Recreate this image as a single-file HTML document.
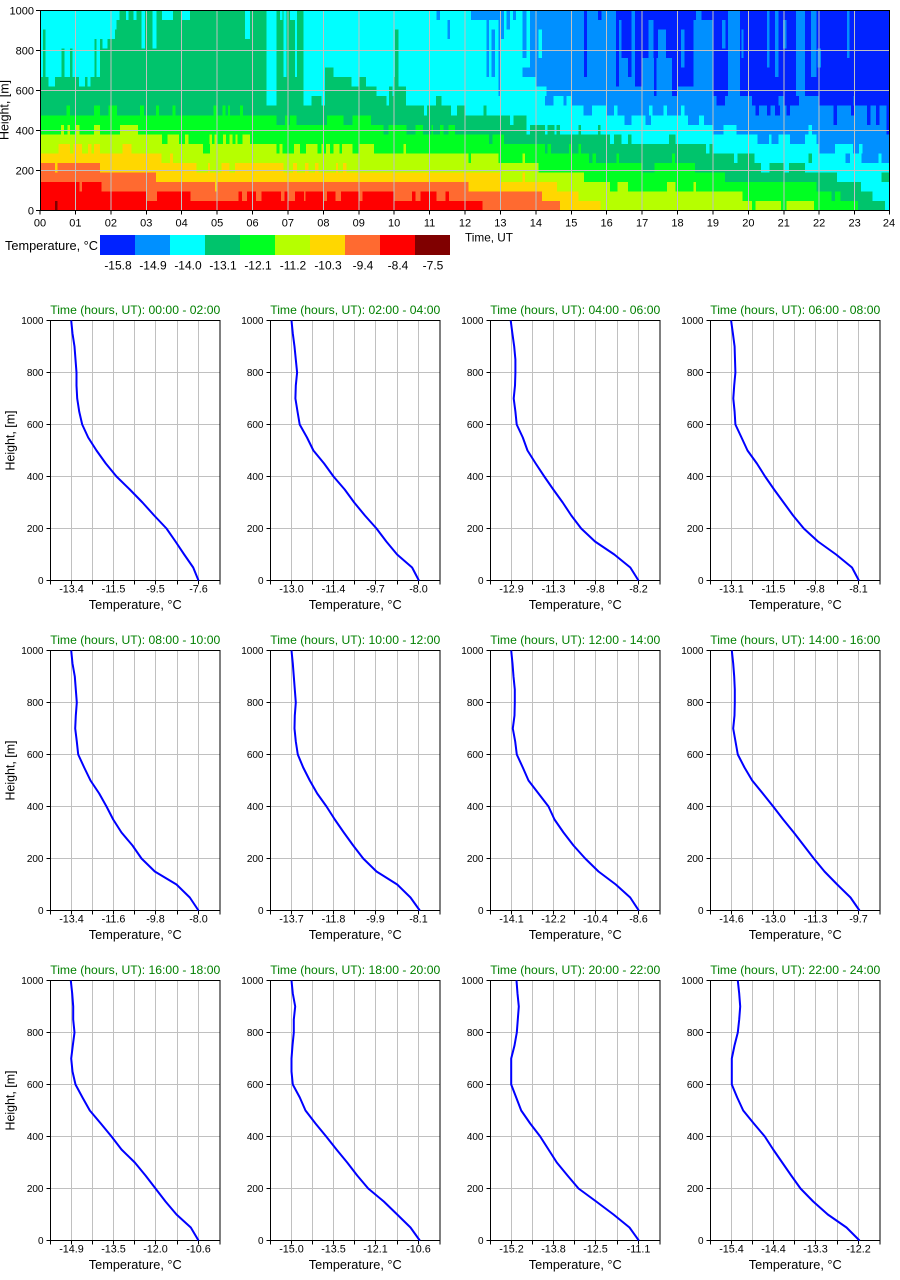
<!DOCTYPE html>
<html><head><meta charset="utf-8"><style>
html,body{margin:0;padding:0;background:#fff;}
svg{display:block}
text{font-family:"Liberation Sans",Arial,sans-serif;fill:#000}
.yl{font-size:10px;text-anchor:end}
.xl{font-size:10.8px;text-anchor:middle}
.xt{font-size:13px;text-anchor:middle}
.tt{font-size:12px;text-anchor:middle;fill:#008000}
.hy{font-size:11px;text-anchor:end}
.hx{font-size:11px;text-anchor:middle}
.cb{font-size:12px;text-anchor:middle}
.A{fill:#0022ff}.B{fill:#0090ff}.C{fill:#00ffff}.T{fill:#00c46c}.G{fill:#00ff22}.Y{fill:#b6ff00}.O{fill:#ffd700}.N{fill:#ff6a30}.R{fill:#ff0000}.D{fill:#800000}
.pl{fill:none;stroke:#0000ff;stroke-width:2;stroke-linejoin:round}
</style></head><body>
<svg width="900" height="1280" viewBox="0 0 900 1280" xmlns="http://www.w3.org/2000/svg">
<rect x="0" y="0" width="900" height="1280" fill="#fff"/>
<defs>
<g id="ax">
<path d="M21 0V260M42 0V260M63 0V260M84 0V260M105 0V260M127 0V260M148 0V260M0 52H169.5M0 104H169.5M0 156H169.5M0 208H169.5" stroke="#c0c0c0" fill="none"/>
<rect x="0" y="0" width="169.5" height="260" fill="none" stroke="#000"/>
<path d="M0 260v4M21 260v4M42 260v4M63 260v4M84 260v4M105 260v4M127 260v4M148 260v4M169.5 260v4M0 0h-4M0 52h-4M0 104h-4M0 156h-4M0 208h-4M0 260h-4" stroke="#000" fill="none"/>
</g>
</defs>

<!-- HEATMAP -->
<svg x="40" y="10.5" width="850" height="200" viewBox="0 0 24 21" preserveAspectRatio="none" shape-rendering="crispEdges">
<rect class="T" x="0" y="0" width="12" height="9"/>
<rect class="C" x="0" y="0" width="1.69" height="7"/>
<rect class="C" x="0.24" y="7" width="0.18" height="1"/>
<rect class="C" x="1.1" y="7" width="0.17" height="1"/>
<rect class="C" x="1.34" y="7" width="0.09" height="1"/>
<rect class="T" x="0.08" y="2" width="0.08" height="5"/>
<rect class="T" x="0.61" y="4" width="0.08" height="3"/>
<rect class="T" x="0.85" y="4" width="0.07" height="3"/>
<rect class="T" x="1.54" y="3" width="0.06" height="4"/>
<rect class="C" x="1.69" y="0" width="0.43" height="3"/>
<rect class="C" x="1.77" y="3" width="0.13" height="1"/>
<rect class="C" x="2.12" y="0" width="0.04" height="2"/>
<rect class="C" x="2.16" y="0" width="0.08" height="1"/>
<rect class="C" x="2.43" y="0" width="0.07" height="1"/>
<rect class="C" x="2.64" y="0" width="0.09" height="1"/>
<rect class="C" x="2.87" y="0" width="0.09" height="4"/>
<rect class="C" x="3.18" y="0" width="0.11" height="4"/>
<rect class="C" x="3.45" y="0" width="0.31" height="1"/>
<rect class="C" x="4.0" y="0" width="0.23" height="1"/>
<rect class="C" x="5.79" y="0" width="0.14" height="3"/>
<rect class="C" x="6.4" y="0" width="0.28" height="9"/>
<rect class="C" x="6.77" y="0" width="0.08" height="1"/>
<rect class="C" x="6.87" y="0" width="0.09" height="7"/>
<rect class="C" x="7.06" y="0" width="0.14" height="1"/>
<rect class="C" x="7.2" y="0" width="0.05" height="7"/>
<rect class="C" x="7.44" y="0" width="0.61" height="9"/>
<rect class="C" x="8.05" y="0" width="0.23" height="6"/>
<rect class="C" x="8.28" y="0" width="2.05" height="7"/>
<rect class="C" x="8.8" y="7" width="0.2" height="1"/>
<rect class="C" x="9.2" y="7" width="0.8" height="1"/>
<rect class="C" x="10.12" y="7" width="0.21" height="1"/>
<rect class="C" x="9.5" y="8" width="0.35" height="1"/>
<rect class="C" x="9.95" y="8" width="0.05" height="1"/>
<rect class="T" x="10.02" y="2" width="0.1" height="5"/>
<rect class="C" x="10.33" y="0" width="1.67" height="9"/>
<rect class="B" x="11.2" y="0" width="0.1" height="1"/>
<rect class="B" x="11.5" y="1" width="0.08" height="2"/>
<rect class="C" x="12" y="0" width="2" height="9"/>
<rect class="B" x="12.17" y="0" width="0.82" height="1"/>
<rect class="B" x="12.61" y="1" width="0.07" height="6"/>
<rect class="B" x="12.75" y="2" width="0.1" height="5"/>
<rect class="B" x="12.94" y="0" width="0.05" height="9"/>
<rect class="B" x="13.0" y="0" width="0.1" height="3"/>
<rect class="B" x="13.17" y="0" width="0.1" height="2"/>
<rect class="B" x="13.36" y="0" width="0.08" height="1"/>
<rect class="B" x="13.62" y="0" width="0.12" height="5"/>
<rect class="B" x="13.62" y="6" width="0.38" height="1"/>
<rect class="B" x="13.84" y="0" width="0.16" height="7"/>
<rect class="B" x="14" y="0" width="5" height="9"/>
<rect class="C" x="14.07" y="2" width="0.1" height="3"/>
<rect class="C" x="14.0" y="8" width="0.3" height="1"/>
<rect class="A" x="15.36" y="0" width="0.09" height="7"/>
<rect class="A" x="15.76" y="0" width="0.1" height="1"/>
<rect class="A" x="16.26" y="0" width="0.44" height="5"/>
<rect class="A" x="16.26" y="5" width="0.09" height="3"/>
<rect class="B" x="16.35" y="1" width="0.07" height="4"/>
<rect class="A" x="16.6" y="5" width="0.1" height="2"/>
<rect class="A" x="16.8" y="0" width="0.2" height="8"/>
<rect class="A" x="17.0" y="0" width="0.84" height="5"/>
<rect class="B" x="17.18" y="1" width="0.14" height="4"/>
<rect class="B" x="17.45" y="2" width="0.22" height="3"/>
<rect class="A" x="17.34" y="0" width="0.07" height="9"/>
<rect class="A" x="17.84" y="0" width="0.16" height="9"/>
<rect class="A" x="18.0" y="0" width="0.45" height="8"/>
<rect class="B" x="18.1" y="2" width="0.1" height="4"/>
<rect class="A" x="18.45" y="0" width="0.07" height="1"/>
<rect class="A" x="18.68" y="0" width="0.32" height="1"/>
<rect class="A" x="19" y="0" width="5" height="9"/>
<rect class="B" x="19.25" y="1" width="0.1" height="3"/>
<rect class="B" x="19.43" y="0" width="0.34" height="9"/>
<rect class="B" x="19.8" y="2" width="0.06" height="3"/>
<rect class="B" x="20.52" y="0" width="0.08" height="6"/>
<rect class="B" x="20.75" y="0" width="0.1" height="7"/>
<rect class="B" x="20.98" y="1" width="0.1" height="3"/>
<rect class="B" x="21.35" y="0" width="0.25" height="9"/>
<rect class="B" x="21.77" y="0" width="0.15" height="7"/>
<rect class="B" x="21.95" y="4" width="0.1" height="2"/>
<rect class="B" x="22.78" y="0" width="0.08" height="5"/>

<!-- row 11 y=9 -->
<rect class="T" x="0" y="9" width="9.78" height="1"/>
<rect class="C" x="6.4" y="9" width="0.28" height="1"/>
<rect class="C" x="7.44" y="9" width="0.23" height="1"/>
<rect class="C" x="7.95" y="9" width="0.1" height="1"/>
<rect class="C" x="9.78" y="9" width="0.08" height="1"/>
<rect class="T" x="9.86" y="9" width="0.47" height="1"/>
<rect class="C" x="10.33" y="9" width="0.85" height="1"/>
<rect class="T" x="11.18" y="9" width="0.16" height="1"/>
<rect class="C" x="11.34" y="9" width="2.92" height="1"/>
<rect class="B" x="14.26" y="9" width="9.74" height="1"/>
<rect class="C" x="14.5" y="9" width="0.28" height="1"/>
<rect class="C" x="14.87" y="9" width="0.13" height="1"/>
<rect class="A" x="19.1" y="9" width="0.24" height="1"/>
<rect class="A" x="20.1" y="9" width="0.75" height="1"/>
<rect class="A" x="21.0" y="9" width="0.43" height="1"/>
<rect class="A" x="22.0" y="9" width="0.97" height="1"/>
<rect class="A" x="23.0" y="9" width="1.0" height="1"/>

<!-- row 10 y=10 -->
<rect class="T" x="0" y="10" width="12" height="1"/>
<rect class="G" x="0.75" y="10" width="0.1" height="1"/>
<rect class="G" x="1.53" y="10" width="0.16" height="1"/>
<rect class="G" x="1.93" y="10" width="0.25" height="1"/>
<rect class="G" x="2.83" y="10" width="0.1" height="1"/>
<rect class="G" x="3.27" y="10" width="0.09" height="1"/>
<rect class="G" x="3.74" y="10" width="0.09" height="1"/>
<rect class="G" x="4.9" y="10" width="0.08" height="1"/>
<rect class="G" x="5.15" y="10" width="0.09" height="1"/>
<rect class="G" x="5.31" y="10" width="0.06" height="1"/>
<rect class="G" x="5.65" y="10" width="0.08" height="1"/>
<rect class="C" x="10.84" y="10" width="0.09" height="1"/>
<rect class="C" x="11.6" y="10" width="0.17" height="1"/>
<rect class="C" x="12" y="10" width="3.34" height="1"/>
<rect class="T" x="12.52" y="10" width="0.08" height="1"/>
<rect class="B" x="15.34" y="10" width="8.66" height="1"/>
<rect class="C" x="15.58" y="10" width="0.42" height="1"/>
<rect class="C" x="16.2" y="10" width="0.1" height="1"/>
<rect class="C" x="17.2" y="10" width="0.1" height="1"/>
<rect class="C" x="17.6" y="10" width="0.1" height="1"/>
<rect class="C" x="18.1" y="10" width="0.1" height="1"/>
<rect class="A" x="20.2" y="10" width="0.1" height="1"/>
<rect class="A" x="20.52" y="10" width="0.1" height="1"/>
<rect class="A" x="20.75" y="10" width="0.15" height="1"/>
<rect class="A" x="21.08" y="10" width="0.1" height="1"/>
<rect class="A" x="22.4" y="10" width="0.1" height="1"/>
<rect class="A" x="22.9" y="10" width="0.1" height="1"/>
<rect class="A" x="23.35" y="10" width="0.1" height="1"/>
<rect class="A" x="23.6" y="10" width="0.1" height="1"/>
<rect class="A" x="23.9" y="10" width="0.1" height="1"/>

<!-- row 9 y=11 -->
<rect class="G" x="0" y="11" width="9.34" height="1"/>
<rect class="T" x="6.68" y="11" width="0.24" height="1"/>
<rect class="T" x="6.99" y="11" width="0.07" height="1"/>
<rect class="T" x="7.24" y="11" width="0.86" height="1"/>
<rect class="T" x="8.57" y="11" width="0.26" height="1"/>
<rect class="T" x="9.34" y="11" width="4.4" height="1"/>
<rect class="C" x="13.27" y="11" width="0.1" height="1"/>
<rect class="C" x="13.74" y="11" width="5.01" height="1"/>
<rect class="B" x="16.5" y="11" width="0.2" height="1"/>
<rect class="B" x="17.1" y="11" width="0.15" height="1"/>
<rect class="B" x="18.3" y="11" width="0.3" height="1"/>
<rect class="B" x="18.75" y="11" width="5.25" height="1"/>
<rect class="A" x="22.4" y="11" width="0.1" height="1"/>
<rect class="A" x="23.35" y="11" width="0.1" height="1"/>
<rect class="A" x="23.6" y="11" width="0.1" height="1"/>
<rect class="A" x="23.9" y="11" width="0.1" height="1"/>

<!-- row 8 y=12 -->
<rect class="G" x="0" y="12" width="11.72" height="1"/>
<rect class="Y" x="0.59" y="12" width="0.09" height="1"/>
<rect class="Y" x="0.77" y="12" width="0.08" height="1"/>
<rect class="Y" x="0.99" y="12" width="0.12" height="1"/>
<rect class="Y" x="1.52" y="12" width="0.17" height="1"/>
<rect class="Y" x="2.26" y="12" width="0.5" height="1"/>
<rect class="T" x="9.7" y="12" width="0.14" height="1"/>
<rect class="T" x="10.35" y="12" width="0.25" height="1"/>
<rect class="T" x="10.82" y="12" width="0.24" height="1"/>
<rect class="T" x="11.1" y="12" width="0.2" height="1"/>
<rect class="T" x="11.39" y="12" width="0.14" height="1"/>
<rect class="T" x="11.72" y="12" width="2.54" height="1"/>
<rect class="C" x="13.74" y="12" width="0.1" height="1"/>
<rect class="C" x="14.26" y="12" width="4.74" height="1"/>
<rect class="T" x="14.33" y="12" width="0.19" height="1"/>
<rect class="T" x="14.59" y="12" width="0.09" height="1"/>
<rect class="T" x="15.2" y="12" width="0.07" height="1"/>
<rect class="T" x="15.76" y="12" width="0.07" height="1"/>
<rect class="B" x="19" y="12" width="5" height="1"/>
<rect class="C" x="19.3" y="12" width="0.37" height="1"/>
<rect class="C" x="21.7" y="12" width="0.1" height="1"/>
<rect class="A" x="23.9" y="12" width="0.1" height="1"/>

<!-- row 7 y=13 -->
<rect class="Y" x="0" y="13" width="5.93" height="1"/>
<rect class="G" x="3.44" y="13" width="0.16" height="1"/>
<rect class="G" x="3.93" y="13" width="0.17" height="1"/>
<rect class="G" x="4.19" y="13" width="0.59" height="1"/>
<rect class="G" x="4.85" y="13" width="0.07" height="1"/>
<rect class="G" x="4.99" y="13" width="0.17" height="1"/>
<rect class="G" x="5.25" y="13" width="0.1" height="1"/>
<rect class="G" x="5.44" y="13" width="0.08" height="1"/>
<rect class="G" x="5.58" y="13" width="0.14" height="1"/>
<rect class="G" x="5.93" y="13" width="7.17" height="1"/>
<rect class="T" x="12.68" y="13" width="0.09" height="1"/>
<rect class="T" x="13.1" y="13" width="3.0" height="1"/>
<rect class="C" x="16.1" y="13" width="5.83" height="1"/>
<rect class="T" x="16.2" y="13" width="0.22" height="1"/>
<rect class="T" x="16.6" y="13" width="0.1" height="1"/>
<rect class="T" x="17.76" y="13" width="0.19" height="1"/>
<rect class="B" x="20.26" y="13" width="0.32" height="1"/>
<rect class="B" x="20.66" y="13" width="0.19" height="1"/>
<rect class="B" x="21.18" y="13" width="0.42" height="1"/>
<rect class="B" x="21.93" y="13" width="2.07" height="1"/>

<!-- row 6 y=14 -->
<rect class="Y" x="0" y="14" width="4.6" height="1"/>
<rect class="O" x="0.52" y="14" width="0.33" height="1"/>
<rect class="O" x="0.94" y="14" width="0.24" height="1"/>
<rect class="O" x="1.36" y="14" width="0.1" height="1"/>
<rect class="O" x="1.52" y="14" width="0.17" height="1"/>
<rect class="O" x="2.33" y="14" width="0.26" height="1"/>
<rect class="G" x="4.6" y="14" width="0.2" height="1"/>
<rect class="Y" x="4.8" y="14" width="1.88" height="1"/>
<rect class="G" x="6.68" y="14" width="7.58" height="1"/>
<rect class="Y" x="6.76" y="14" width="0.09" height="1"/>
<rect class="Y" x="7.17" y="14" width="0.17" height="1"/>
<rect class="Y" x="7.51" y="14" width="0.32" height="1"/>
<rect class="Y" x="7.95" y="14" width="0.05" height="1"/>
<rect class="Y" x="8.07" y="14" width="0.12" height="1"/>
<rect class="Y" x="8.28" y="14" width="0.17" height="1"/>
<rect class="Y" x="8.52" y="14" width="0.31" height="1"/>
<rect class="Y" x="9.02" y="14" width="0.41" height="1"/>
<rect class="Y" x="10.26" y="14" width="0.07" height="1"/>
<rect class="T" x="14.26" y="14" width="4.54" height="1"/>
<rect class="G" x="14.33" y="14" width="0.1" height="1"/>
<rect class="G" x="14.94" y="14" width="0.07" height="1"/>
<rect class="G" x="15.2" y="14" width="0.08" height="1"/>
<rect class="C" x="18.8" y="14" width="5.2" height="1"/>
<rect class="T" x="18.9" y="14" width="0.1" height="1"/>
<rect class="B" x="22" y="14" width="0.45" height="1"/>
<rect class="B" x="22.95" y="14" width="1.05" height="1"/>
<rect class="C" x="23.13" y="14" width="0.09" height="1"/>

<!-- row 5 y=15 -->
<rect class="O" x="0" y="15" width="3.43" height="1"/>
<rect class="Y" x="3.43" y="15" width="9.52" height="1"/>
<rect class="O" x="3.67" y="15" width="0.09" height="1"/>
<rect class="G" x="12.1" y="15" width="0.07" height="1"/>
<rect class="G" x="12.95" y="15" width="2.55" height="1"/>
<rect class="Y" x="13.62" y="15" width="0.08" height="1"/>
<rect class="T" x="15.5" y="15" width="4.1" height="1"/>
<rect class="G" x="15.6" y="15" width="0.1" height="1"/>
<rect class="G" x="16.28" y="15" width="0.07" height="1"/>
<rect class="G" x="17.85" y="15" width="0.08" height="1"/>
<rect class="C" x="19.6" y="15" width="4.4" height="1"/>
<rect class="T" x="19.7" y="15" width="0.47" height="1"/>
<rect class="T" x="21.7" y="15" width="0.1" height="1"/>
<rect class="B" x="22.75" y="15" width="0.12" height="1"/>
<rect class="B" x="23.2" y="15" width="0.47" height="1"/>
<rect class="B" x="23.76" y="15" width="0.24" height="1"/>

<!-- row 4 y=16 -->
<rect class="N" x="0" y="16" width="1.69" height="1"/>
<rect class="O" x="0.42" y="16" width="0.08" height="1"/>
<rect class="O" x="1.69" y="16" width="6.97" height="1"/>
<rect class="Y" x="4.42" y="16" width="0.33" height="1"/>
<rect class="Y" x="4.8" y="16" width="0.33" height="1"/>
<rect class="Y" x="5.35" y="16" width="0.15" height="1"/>
<rect class="Y" x="6.87" y="16" width="0.28" height="1"/>
<rect class="Y" x="7.25" y="16" width="0.23" height="1"/>
<rect class="Y" x="7.58" y="16" width="0.19" height="1"/>
<rect class="Y" x="7.86" y="16" width="0.5" height="1"/>
<rect class="Y" x="8.42" y="16" width="0.13" height="1"/>
<rect class="Y" x="8.66" y="16" width="5.41" height="1"/>
<rect class="G" x="14.07" y="16" width="2.93" height="1"/>
<rect class="T" x="17.0" y="16" width="0.35" height="1"/>
<rect class="G" x="17.35" y="16" width="1.15" height="1"/>
<rect class="T" x="18.5" y="16" width="1.86" height="1"/>
<rect class="C" x="20.36" y="16" width="0.24" height="1"/>
<rect class="T" x="20.6" y="16" width="0.4" height="1"/>
<rect class="C" x="21.0" y="16" width="0.15" height="1"/>
<rect class="T" x="21.15" y="16" width="0.45" height="1"/>
<rect class="C" x="21.6" y="16" width="2.4" height="1"/>

<!-- row 3 y=17 -->
<rect class="N" x="0" y="17" width="3.28" height="1"/>
<rect class="O" x="3.28" y="17" width="9.72" height="1"/>
<rect class="Y" x="13.0" y="17" width="2.36" height="1"/>
<rect class="O" x="13.62" y="17" width="0.08" height="1"/>
<rect class="G" x="15.36" y="17" width="3.98" height="1"/>
<rect class="T" x="19.34" y="17" width="3.16" height="1"/>
<rect class="C" x="22.5" y="17" width="1.26" height="1"/>
<rect class="T" x="23.76" y="17" width="0.24" height="1"/>

<!-- row 2 y=18 -->
<rect class="R" x="0" y="18" width="1.74" height="1"/>
<rect class="N" x="1.11" y="18" width="0.07" height="1"/>
<rect class="N" x="1.74" y="18" width="10.36" height="1"/>
<rect class="O" x="4.94" y="18" width="0.06" height="1"/>
<rect class="O" x="12.1" y="18" width="2.5" height="1"/>
<rect class="Y" x="14.6" y="18" width="1.5" height="1"/>
<rect class="G" x="16.1" y="18" width="7.9" height="1"/>
<rect class="Y" x="16.3" y="18" width="0.3" height="1"/>
<rect class="Y" x="17.7" y="18" width="0.25" height="1"/>
<rect class="Y" x="18.45" y="18" width="0.07" height="1"/>
<rect class="T" x="21.93" y="18" width="1.25" height="1"/>
<rect class="C" x="23.18" y="18" width="0.82" height="1"/>

<!-- row 1 y=19 -->
<rect class="R" x="0" y="19" width="12" height="1"/>
<rect class="N" x="3.0" y="19" width="0.3" height="1"/>
<rect class="N" x="4.25" y="19" width="1.35" height="1"/>
<rect class="N" x="5.7" y="19" width="0.15" height="1"/>
<rect class="N" x="6.1" y="19" width="0.15" height="1"/>
<rect class="N" x="6.8" y="19" width="0.1" height="1"/>
<rect class="N" x="7.0" y="19" width="0.2" height="1"/>
<rect class="N" x="7.45" y="19" width="0.05" height="1"/>
<rect class="N" x="8.0" y="19" width="0.1" height="1"/>
<rect class="N" x="8.35" y="19" width="0.15" height="1"/>
<rect class="N" x="9.0" y="19" width="0.1" height="1"/>
<rect class="N" x="10.0" y="19" width="0.5" height="1"/>
<rect class="N" x="10.6" y="19" width="0.15" height="1"/>
<rect class="N" x="11.2" y="19" width="0.25" height="1"/>
<rect class="N" x="11.55" y="19" width="0.45" height="1"/>
<rect class="N" x="12" y="19" width="2.17" height="1"/>
<rect class="O" x="14.17" y="19" width="1.03" height="1"/>
<rect class="Y" x="15.2" y="19" width="4.64" height="1"/>
<rect class="G" x="19.84" y="19" width="4.16" height="1"/>
<rect class="T" x="22.35" y="19" width="0.1" height="1"/>
<rect class="T" x="22.6" y="19" width="0.9" height="1"/>
<rect class="C" x="23.5" y="19" width="0.5" height="1"/>

<!-- row 0 y=20 -->
<rect class="R" x="0" y="20" width="12.5" height="1"/>
<rect class="N" x="12.5" y="20" width="2.18" height="1"/>
<rect class="O" x="14.68" y="20" width="1.15" height="1"/>
<rect class="Y" x="15.83" y="20" width="8.17" height="1"/>
<rect class="D" x="0.42" y="20" width="0.08" height="1"/>
<rect class="G" x="20.1" y="20" width="0.1" height="1"/>
<rect class="G" x="20.92" y="20" width="0.16" height="1"/>
<rect class="G" x="21.85" y="20" width="1.25" height="1"/>
<rect class="T" x="23.1" y="20" width="0.76" height="1"/>
<rect class="C" x="23.86" y="20" width="0.14" height="1"/>
</svg>

<!-- heatmap grid -->
<path d="M75.42 10.5V210.5M110.83 10.5V210.5M146.25 10.5V210.5M181.67 10.5V210.5M217.08 10.5V210.5M252.5 10.5V210.5M287.92 10.5V210.5M323.33 10.5V210.5M358.75 10.5V210.5M394.17 10.5V210.5M429.58 10.5V210.5M465 10.5V210.5M500.42 10.5V210.5M535.83 10.5V210.5M571.25 10.5V210.5M606.67 10.5V210.5M642.08 10.5V210.5M677.5 10.5V210.5M712.92 10.5V210.5M748.33 10.5V210.5M783.75 10.5V210.5M819.17 10.5V210.5M854.58 10.5V210.5M40 50.5H890M40 90.5H890M40 130.5H890M40 170.5H890" stroke="#c0c0c0" stroke-width="1" fill="none" shape-rendering="crispEdges"/>
<rect x="40.5" y="10.5" width="849" height="200" fill="none" stroke="#000" stroke-width="1" shape-rendering="crispEdges"/>
<path d="M40 210.5v4M75.42 210.5v4M110.83 210.5v4M146.25 210.5v4M181.67 210.5v4M217.08 210.5v4M252.5 210.5v4M287.92 210.5v4M323.33 210.5v4M358.75 210.5v4M394.17 210.5v4M429.58 210.5v4M465 210.5v4M500.42 210.5v4M535.83 210.5v4M571.25 210.5v4M606.67 210.5v4M642.08 210.5v4M677.5 210.5v4M712.92 210.5v4M748.33 210.5v4M783.75 210.5v4M819.17 210.5v4M854.58 210.5v4M889.5 210.5v4M40 10.5h-4M40 50.5h-4M40 90.5h-4M40 130.5h-4M40 170.5h-4M40 210.5h-4" stroke="#000" fill="none" shape-rendering="crispEdges"/>
<text class="hy" x="34" y="14.5">1000</text>
<text class="hy" x="34" y="54.5">800</text>
<text class="hy" x="34" y="94.5">600</text>
<text class="hy" x="34" y="134.5">400</text>
<text class="hy" x="34" y="174.5">200</text>
<text class="hy" x="34" y="214.5">0</text>
<text x="8.5" y="110" font-size="13" text-anchor="middle" transform="rotate(-90 8.5 110)" textLength="60" lengthAdjust="spacingAndGlyphs">Height, [m]</text>
<g>
<text class="hx" x="40" y="226.5">00</text>
<text class="hx" x="75.42" y="226.5">01</text>
<text class="hx" x="110.83" y="226.5">02</text>
<text class="hx" x="146.25" y="226.5">03</text>
<text class="hx" x="181.67" y="226.5">04</text>
<text class="hx" x="217.08" y="226.5">05</text>
<text class="hx" x="252.5" y="226.5">06</text>
<text class="hx" x="287.92" y="226.5">07</text>
<text class="hx" x="323.33" y="226.5">08</text>
<text class="hx" x="358.75" y="226.5">09</text>
<text class="hx" x="394.17" y="226.5">10</text>
<text class="hx" x="429.58" y="226.5">11</text>
<text class="hx" x="465" y="226.5">12</text>
<text class="hx" x="500.42" y="226.5">13</text>
<text class="hx" x="535.83" y="226.5">14</text>
<text class="hx" x="571.25" y="226.5">15</text>
<text class="hx" x="606.67" y="226.5">16</text>
<text class="hx" x="642.08" y="226.5">17</text>
<text class="hx" x="677.5" y="226.5">18</text>
<text class="hx" x="712.92" y="226.5">19</text>
<text class="hx" x="748.33" y="226.5">20</text>
<text class="hx" x="783.75" y="226.5">21</text>
<text class="hx" x="819.17" y="226.5">22</text>
<text class="hx" x="854.58" y="226.5">23</text>
<text class="hx" x="889" y="226.5">24</text>
</g>
<text x="465" y="241.5" font-size="12" textLength="48" lengthAdjust="spacingAndGlyphs">Time, UT</text>

<!-- colorbar -->
<text x="5" y="250" font-size="13" textLength="93" lengthAdjust="spacingAndGlyphs">Temperature, °C</text>
<g shape-rendering="crispEdges">
<rect class="A" x="100" y="235" width="35" height="20"/>
<rect class="B" x="135" y="235" width="35" height="20"/>
<rect class="C" x="170" y="235" width="35" height="20"/>
<rect class="T" x="205" y="235" width="35" height="20"/>
<rect class="G" x="240" y="235" width="35" height="20"/>
<rect class="Y" x="275" y="235" width="35" height="20"/>
<rect class="O" x="310" y="235" width="35" height="20"/>
<rect class="N" x="345" y="235" width="35" height="20"/>
<rect class="R" x="380" y="235" width="35" height="20"/>
<rect class="D" x="415" y="235" width="35" height="20"/>
</g>
<text class="cb" x="118" y="269.5">-15.8</text>
<text class="cb" x="153" y="269.5">-14.9</text>
<text class="cb" x="188" y="269.5">-14.0</text>
<text class="cb" x="223" y="269.5">-13.1</text>
<text class="cb" x="258" y="269.5">-12.1</text>
<text class="cb" x="293" y="269.5">-11.2</text>
<text class="cb" x="328" y="269.5">-10.3</text>
<text class="cb" x="363" y="269.5">-9.4</text>
<text class="cb" x="398" y="269.5">-8.4</text>
<text class="cb" x="433" y="269.5">-7.5</text>

<!-- PROFILE 1 -->
<g transform="translate(50.5,320.5)">
<use href="#ax"/>
<text class="yl" x="-7" y="3.5">1000</text><text class="yl" x="-7" y="55.5">800</text><text class="yl" x="-7" y="107.5">600</text><text class="yl" x="-7" y="159.5">400</text><text class="yl" x="-7" y="211.5">200</text><text class="yl" x="-7" y="263.5">0</text>
<text class="xl" x="21" y="272">-13.4</text><text class="xl" x="63" y="272">-11.5</text><text class="xl" x="105" y="272">-9.5</text><text class="xl" x="148" y="272">-7.6</text>
<text class="xt" x="84.75" y="288.5" textLength="93" lengthAdjust="spacingAndGlyphs">Temperature, °C</text>
<text class="tt" x="84.75" y="-6.5" textLength="170" lengthAdjust="spacingAndGlyphs">Time (hours, UT): 00:00 - 02:00</text>
<text x="-36" y="120" font-size="13" text-anchor="middle" transform="rotate(-90 -36 120)" textLength="60" lengthAdjust="spacingAndGlyphs">Height, [m]</text>
<polyline class="pl" points="148,260 142.7,247 133.7,234 125,221 116,208 103.7,195 92,182 79.3,169 66,156 55.3,143 46,130 37.7,117 31.7,104 28.7,91 26.7,78 26,65 26,52 25,39 24,26 22,13 20.7,0"/>
</g>

<!-- PROFILE 2 -->
<g transform="translate(270.5,320.5)">
<use href="#ax"/>
<text class="yl" x="-7" y="3.5">1000</text><text class="yl" x="-7" y="55.5">800</text><text class="yl" x="-7" y="107.5">600</text><text class="yl" x="-7" y="159.5">400</text><text class="yl" x="-7" y="211.5">200</text><text class="yl" x="-7" y="263.5">0</text>
<text class="xl" x="21" y="272">-13.0</text><text class="xl" x="63" y="272">-11.4</text><text class="xl" x="105" y="272">-9.7</text><text class="xl" x="148" y="272">-8.0</text>
<text class="xt" x="84.75" y="288.5" textLength="93" lengthAdjust="spacingAndGlyphs">Temperature, °C</text>
<text class="tt" x="84.75" y="-6.5" textLength="170" lengthAdjust="spacingAndGlyphs">Time (hours, UT): 02:00 - 04:00</text>
<polyline class="pl" points="148.4,260 141.6,247 126.6,234 115.8,221 106,208 94.4,195 83.7,182 74.2,169 63,156 53.6,143 42.9,130 36.5,117 29.2,104 27,91 24.9,78 25.3,65 26.6,52 25.3,39 24,26 22.3,13 21,0"/>
</g>

<!-- PROFILE 3 -->
<g transform="translate(490.5,320.5)">
<use href="#ax"/>
<text class="yl" x="-7" y="3.5">1000</text><text class="yl" x="-7" y="55.5">800</text><text class="yl" x="-7" y="107.5">600</text><text class="yl" x="-7" y="159.5">400</text><text class="yl" x="-7" y="211.5">200</text><text class="yl" x="-7" y="263.5">0</text>
<text class="xl" x="21" y="272">-12.9</text><text class="xl" x="63" y="272">-11.3</text><text class="xl" x="105" y="272">-9.8</text><text class="xl" x="148" y="272">-8.2</text>
<text class="xt" x="84.75" y="288.5" textLength="93" lengthAdjust="spacingAndGlyphs">Temperature, °C</text>
<text class="tt" x="84.75" y="-6.5" textLength="170" lengthAdjust="spacingAndGlyphs">Time (hours, UT): 04:00 - 06:00</text>
<polyline class="pl" points="148,260 139.8,247 123.8,234 104.5,221 90.7,208 80.8,195 72.2,182 62.8,169 53.8,156 45.2,143 37,130 32.3,117 26.2,104 24.9,91 23.2,78 24.5,65 24.9,52 24.9,39 23.7,26 21.9,13 20.2,0"/>
</g>

<!-- PROFILE 4 -->
<g transform="translate(710.5,320.5)">
<use href="#ax"/>
<text class="yl" x="-7" y="3.5">1000</text><text class="yl" x="-7" y="55.5">800</text><text class="yl" x="-7" y="107.5">600</text><text class="yl" x="-7" y="159.5">400</text><text class="yl" x="-7" y="211.5">200</text><text class="yl" x="-7" y="263.5">0</text>
<text class="xl" x="21" y="272">-13.1</text><text class="xl" x="63" y="272">-11.5</text><text class="xl" x="105" y="272">-9.8</text><text class="xl" x="148" y="272">-8.1</text>
<text class="xt" x="84.75" y="288.5" textLength="93" lengthAdjust="spacingAndGlyphs">Temperature, °C</text>
<text class="tt" x="84.75" y="-6.5" textLength="170" lengthAdjust="spacingAndGlyphs">Time (hours, UT): 06:00 - 08:00</text>
<polyline class="pl" points="148.4,260 141.5,247 125.6,234 107.5,221 93.3,208 82.6,195 73.1,182 63.6,169 54.6,156 46.4,143 37,130 31,117 24.9,104 24.1,91 22.8,78 23.7,65 24.9,52 24.5,39 24.1,26 22.4,13 20.6,0"/>
</g>

<!-- PROFILE 5 -->
<g transform="translate(50.5,650.5)">
<use href="#ax"/>
<text class="yl" x="-7" y="3.5">1000</text><text class="yl" x="-7" y="55.5">800</text><text class="yl" x="-7" y="107.5">600</text><text class="yl" x="-7" y="159.5">400</text><text class="yl" x="-7" y="211.5">200</text><text class="yl" x="-7" y="263.5">0</text>
<text class="xl" x="21" y="272">-13.4</text><text class="xl" x="63" y="272">-11.6</text><text class="xl" x="105" y="272">-9.8</text><text class="xl" x="148" y="272">-8.0</text>
<text class="xt" x="84.75" y="288.5" textLength="93" lengthAdjust="spacingAndGlyphs">Temperature, °C</text>
<text class="tt" x="84.75" y="-6.5" textLength="170" lengthAdjust="spacingAndGlyphs">Time (hours, UT): 08:00 - 10:00</text>
<text x="-36" y="120" font-size="13" text-anchor="middle" transform="rotate(-90 -36 120)" textLength="60" lengthAdjust="spacingAndGlyphs">Height, [m]</text>
<polyline class="pl" points="148,260 139.3,247 126,234 104.3,221 91,208 82,195 71,182 62.7,169 56,156 48.7,143 40,130 33.7,117 27.7,104 26.3,91 24.7,78 25.3,65 26.3,52 25.3,39 24.3,26 22,13 20.7,0"/>
</g>

<!-- PROFILE 6 -->
<g transform="translate(270.5,650.5)">
<use href="#ax"/>
<text class="yl" x="-7" y="3.5">1000</text><text class="yl" x="-7" y="55.5">800</text><text class="yl" x="-7" y="107.5">600</text><text class="yl" x="-7" y="159.5">400</text><text class="yl" x="-7" y="211.5">200</text><text class="yl" x="-7" y="263.5">0</text>
<text class="xl" x="21" y="272">-13.7</text><text class="xl" x="63" y="272">-11.8</text><text class="xl" x="105" y="272">-9.9</text><text class="xl" x="148" y="272">-8.1</text>
<text class="xt" x="84.75" y="288.5" textLength="93" lengthAdjust="spacingAndGlyphs">Temperature, °C</text>
<text class="tt" x="84.75" y="-6.5" textLength="170" lengthAdjust="spacingAndGlyphs">Time (hours, UT): 10:00 - 12:00</text>
<polyline class="pl" points="149.3,260 140,247 126.7,234 106,221 92.7,208 82.7,195 73.3,182 64.3,169 56,156 46.7,143 39.3,130 32.7,117 27.3,104 25.3,91 24,78 24.3,65 25.3,52 24.3,39 23.3,26 22.3,13 21,0"/>
</g>

<!-- PROFILE 7 -->
<g transform="translate(490.5,650.5)">
<use href="#ax"/>
<text class="yl" x="-7" y="3.5">1000</text><text class="yl" x="-7" y="55.5">800</text><text class="yl" x="-7" y="107.5">600</text><text class="yl" x="-7" y="159.5">400</text><text class="yl" x="-7" y="211.5">200</text><text class="yl" x="-7" y="263.5">0</text>
<text class="xl" x="21" y="272">-14.1</text><text class="xl" x="63" y="272">-12.2</text><text class="xl" x="105" y="272">-10.4</text><text class="xl" x="148" y="272">-8.6</text>
<text class="xt" x="84.75" y="288.5" textLength="93" lengthAdjust="spacingAndGlyphs">Temperature, °C</text>
<text class="tt" x="84.75" y="-6.5" textLength="170" lengthAdjust="spacingAndGlyphs">Time (hours, UT): 12:00 - 14:00</text>
<polyline class="pl" points="148.3,260 139.7,247 125.3,234 108,221 94.7,208 83,195 73,182 64,169 58,156 48,143 38,130 32.3,117 26.3,104 24.7,91 22.3,78 24,65 24.3,52 24.3,39 23,26 22,13 20.7,0"/>
</g>

<!-- PROFILE 8 -->
<g transform="translate(710.5,650.5)">
<use href="#ax"/>
<text class="yl" x="-7" y="3.5">1000</text><text class="yl" x="-7" y="55.5">800</text><text class="yl" x="-7" y="107.5">600</text><text class="yl" x="-7" y="159.5">400</text><text class="yl" x="-7" y="211.5">200</text><text class="yl" x="-7" y="263.5">0</text>
<text class="xl" x="21" y="272">-14.6</text><text class="xl" x="63" y="272">-13.0</text><text class="xl" x="105" y="272">-11.3</text><text class="xl" x="148" y="272">-9.7</text>
<text class="xt" x="84.75" y="288.5" textLength="93" lengthAdjust="spacingAndGlyphs">Temperature, °C</text>
<text class="tt" x="84.75" y="-6.5" textLength="170" lengthAdjust="spacingAndGlyphs">Time (hours, UT): 14:00 - 16:00</text>
<polyline class="pl" points="149,260 140,247 126.7,234 114,221 103.3,208 93.3,195 83.3,182 72.7,169 62.7,156 52.3,143 41.7,130 34,117 27.3,104 25,91 22.7,78 24,65 24.3,52 24.3,39 23.7,26 22.7,13 21.3,0"/>
</g>

<!-- PROFILE 9 -->
<g transform="translate(50.5,980.5)">
<use href="#ax"/>
<text class="yl" x="-7" y="3.5">1000</text><text class="yl" x="-7" y="55.5">800</text><text class="yl" x="-7" y="107.5">600</text><text class="yl" x="-7" y="159.5">400</text><text class="yl" x="-7" y="211.5">200</text><text class="yl" x="-7" y="263.5">0</text>
<text class="xl" x="21" y="272">-14.9</text><text class="xl" x="63" y="272">-13.5</text><text class="xl" x="105" y="272">-12.0</text><text class="xl" x="148" y="272">-10.6</text>
<text class="xt" x="84.75" y="288.5" textLength="93" lengthAdjust="spacingAndGlyphs">Temperature, °C</text>
<text class="tt" x="84.75" y="-6.5" textLength="170" lengthAdjust="spacingAndGlyphs">Time (hours, UT): 16:00 - 18:00</text>
<text x="-36" y="120" font-size="13" text-anchor="middle" transform="rotate(-90 -36 120)" textLength="60" lengthAdjust="spacingAndGlyphs">Height, [m]</text>
<polyline class="pl" points="148,260 140.3,247 126,234 115,221 105,208 95,195 84.3,182 71,169 61,156 50.3,143 39.3,130 32,117 25,104 22,91 20.7,78 22.3,65 24,52 22.7,39 22.7,26 21.7,13 20.3,0"/>
</g>

<!-- PROFILE 10 -->
<g transform="translate(270.5,980.5)">
<use href="#ax"/>
<text class="yl" x="-7" y="3.5">1000</text><text class="yl" x="-7" y="55.5">800</text><text class="yl" x="-7" y="107.5">600</text><text class="yl" x="-7" y="159.5">400</text><text class="yl" x="-7" y="211.5">200</text><text class="yl" x="-7" y="263.5">0</text>
<text class="xl" x="21" y="272">-15.0</text><text class="xl" x="63" y="272">-13.5</text><text class="xl" x="105" y="272">-12.1</text><text class="xl" x="148" y="272">-10.6</text>
<text class="xt" x="84.75" y="288.5" textLength="93" lengthAdjust="spacingAndGlyphs">Temperature, °C</text>
<text class="tt" x="84.75" y="-6.5" textLength="170" lengthAdjust="spacingAndGlyphs">Time (hours, UT): 18:00 - 20:00</text>
<polyline class="pl" points="149.3,260 140,247 126.7,234 113.3,221 97.7,208 86.7,195 76.7,182 66,169 55.7,156 45,143 35,130 29.3,117 22.3,104 21,91 21,78 22,65 23.3,52 23.3,39 24.7,26 22.3,13 21,0"/>
</g>

<!-- PROFILE 11 -->
<g transform="translate(490.5,980.5)">
<use href="#ax"/>
<text class="yl" x="-7" y="3.5">1000</text><text class="yl" x="-7" y="55.5">800</text><text class="yl" x="-7" y="107.5">600</text><text class="yl" x="-7" y="159.5">400</text><text class="yl" x="-7" y="211.5">200</text><text class="yl" x="-7" y="263.5">0</text>
<text class="xl" x="21" y="272">-15.2</text><text class="xl" x="63" y="272">-13.8</text><text class="xl" x="105" y="272">-12.5</text><text class="xl" x="148" y="272">-11.1</text>
<text class="xt" x="84.75" y="288.5" textLength="93" lengthAdjust="spacingAndGlyphs">Temperature, °C</text>
<text class="tt" x="84.75" y="-6.5" textLength="170" lengthAdjust="spacingAndGlyphs">Time (hours, UT): 20:00 - 22:00</text>
<polyline class="pl" points="148.3,260 139,247 123,234 105.7,221 88,208 77,195 66.3,182 58,169 49.7,156 39.7,143 30.7,130 25.7,117 20.7,104 20.7,91 20.7,78 24,65 26.3,52 27.3,39 28.3,26 27,13 26,0"/>
</g>

<!-- PROFILE 12 -->
<g transform="translate(710.5,980.5)">
<use href="#ax"/>
<text class="yl" x="-7" y="3.5">1000</text><text class="yl" x="-7" y="55.5">800</text><text class="yl" x="-7" y="107.5">600</text><text class="yl" x="-7" y="159.5">400</text><text class="yl" x="-7" y="211.5">200</text><text class="yl" x="-7" y="263.5">0</text>
<text class="xl" x="21" y="272">-15.4</text><text class="xl" x="63" y="272">-14.4</text><text class="xl" x="105" y="272">-13.3</text><text class="xl" x="148" y="272">-12.2</text>
<text class="xt" x="84.75" y="288.5" textLength="93" lengthAdjust="spacingAndGlyphs">Temperature, °C</text>
<text class="tt" x="84.75" y="-6.5" textLength="170" lengthAdjust="spacingAndGlyphs">Time (hours, UT): 22:00 - 24:00</text>
<polyline class="pl" points="149,260 136,247 117.3,234 102.7,221 90,208 80.7,195 71.7,182 62.7,169 54.3,156 43.3,143 32.7,130 26.7,117 21.3,104 21.3,91 21.3,78 24,65 27.3,52 28.7,39 29.7,26 28.7,13 27.3,0"/>
</g>
</svg>
</body></html>
